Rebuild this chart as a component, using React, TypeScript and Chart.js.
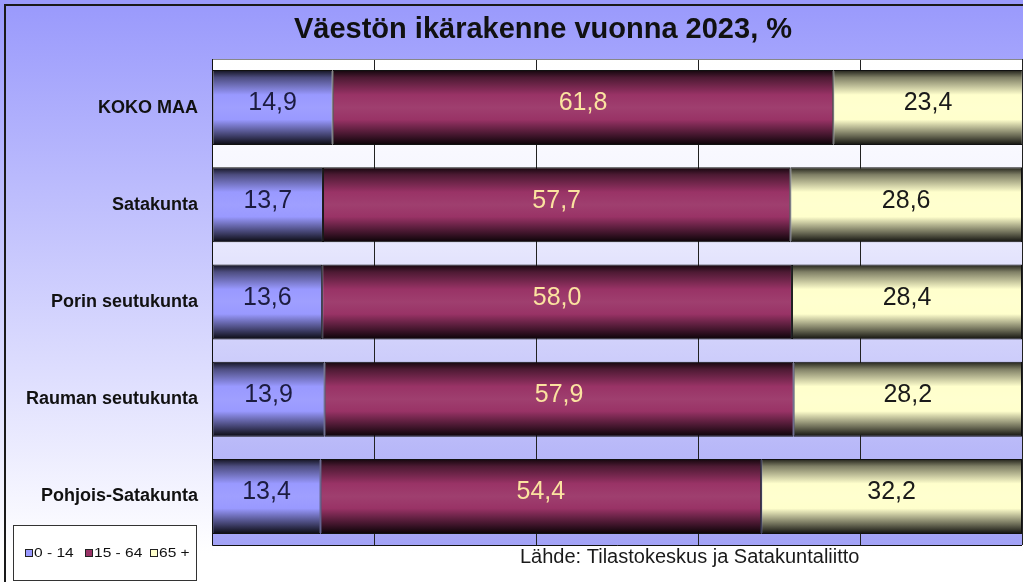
import React, { useEffect, useRef } from "react";
import { Chart, registerables } from "chart.js";

Chart.register(...registerables);

const categories = ["KOKO MAA", "Satakunta", "Porin seutukunta", "Rauman seutukunta", "Pohjois-Satakunta"];
const age0to14 = [14.9, 13.7, 13.6, 13.9, 13.4];
const age15to64 = [61.8, 57.7, 58.0, 57.9, 54.4];
const age65plus = [23.4, 28.6, 28.4, 28.2, 32.2];
const seriesLabels = ["0 - 14", "15 - 64", "65 +"];
const xTicks = [0, 20, 40, 60, 80, 100];
const titleText = "Väestön ikärakenne vuonna 2023, %";
const sourceText = "Lähde: Tilastokeskus ja Satakuntaliitto";

const baseColors = ["#9999ff", "#993366", "#ffffcc"];
const labelColors = ["#1c1c40", "#fbe3a0", "#1a1a1a"];
const CAT_PCT = 0.772;
const FONT = "Arial, 'Liberation Sans', sans-serif";

function hexToRgb(h: string) {
  const n = parseInt(h.slice(1), 16);
  return [(n >> 16) & 255, (n >> 8) & 255, n & 255];
}
function mix(h: string, f: number, target = 0) {
  const [r, g, b] = hexToRgb(h);
  const m = (c: number) => Math.round(c * f + target * (1 - f));
  return `rgb(${m(r)},${m(g)},${m(b)})`;
}

function barGradient(c: any, base: string) {
  const chart = c.chart;
  const y = chart.scales && chart.scales.y;
  if (!y || !chart.chartArea) return base;
  const center = y.getPixelForValue(c.dataIndex);
  const band = (y.bottom - y.top) / categories.length;
  const half = (band * CAT_PCT) / 2;
  const g = chart.ctx.createLinearGradient(0, center - half, 0, center + half);
  g.addColorStop(0, mix(base, 0.12));
  g.addColorStop(0.1, mix(base, 0.5));
  g.addColorStop(0.33, base);
  g.addColorStop(0.5, mix(base, 0.94, 255));
  g.addColorStop(0.66, base);
  g.addColorStop(0.88, mix(base, 0.4));
  g.addColorStop(1, mix(base, 0.06));
  return g;
}

const decor = {
  id: "decor",
  beforeDraw(chart: any) {
    const { ctx, chartArea: a, width, height } = chart;
    ctx.save();
    const bg = ctx.createLinearGradient(0, 5, 0, height);
    bg.addColorStop(0, "#9a9afc");
    bg.addColorStop(0.95, "#ffffff");
    bg.addColorStop(1, "#ffffff");
    ctx.fillStyle = bg;
    ctx.fillRect(0, 0, width, height);
    ctx.strokeStyle = "#1a1a1a";
    ctx.lineWidth = 2;
    ctx.strokeRect(5, 5, width + 10, height + 10);
    const pg = ctx.createLinearGradient(0, a.top, 0, a.bottom);
    pg.addColorStop(0, "#ffffff");
    pg.addColorStop(0.25, "#f6f6ff");
    pg.addColorStop(1, "#a2a2f6");
    ctx.fillStyle = pg;
    ctx.fillRect(a.left, a.top, a.right - a.left, a.bottom - a.top);
    ctx.restore();
  },
  afterDatasetsDraw(chart: any) {
    const { ctx, chartArea: a } = chart;
    ctx.save();
    ctx.font = `25px ${FONT}`;
    ctx.textAlign = "center";
    ctx.textBaseline = "middle";
    chart.data.datasets.forEach((ds: any, di: number) => {
      const meta = chart.getDatasetMeta(di);
      meta.data.forEach((el: any, i: number) => {
        const v = ds.data[i];
        const x = (el.x + el.base) / 2;
        ctx.fillStyle = labelColors[di];
        ctx.fillText(v.toFixed(1).replace(".", ","), x, el.y - 4);
      });
    });
    // plot frame
    ctx.strokeStyle = "#888";
    ctx.lineWidth = 1;
    ctx.beginPath();
    ctx.moveTo(a.left, a.top + 0.5);
    ctx.lineTo(a.right, a.top + 0.5);
    ctx.stroke();
    ctx.strokeStyle = "#111";
    ctx.beginPath();
    ctx.moveTo(a.left + 0.5, a.top);
    ctx.lineTo(a.left + 0.5, a.bottom + 0.5);
    ctx.lineTo(a.right, a.bottom + 0.5);
    ctx.stroke();
    ctx.restore();
  },
  afterDraw(chart: any) {
    const { ctx } = chart;
    ctx.save();
    ctx.fillStyle = "#111";
    ctx.font = `bold 29px ${FONT}`;
    ctx.textAlign = "center";
    ctx.textBaseline = "middle";
    ctx.fillText(titleText, 543, 30);

    ctx.font = `20px ${FONT}`;
    ctx.fillStyle = "#1a1a1a";
    ctx.textAlign = "left";
    ctx.fillText(sourceText, 520, 557);

    // legend
    ctx.fillStyle = "#ffffff";
    ctx.fillRect(13.5, 525.5, 183, 55);
    ctx.strokeStyle = "#333";
    ctx.lineWidth = 1;
    ctx.strokeRect(13.5, 525.5, 183, 55);
    ctx.textBaseline = "middle";
    const xs = [25, 85, 150];
    seriesLabels.forEach((lab, i) => {
      ctx.fillStyle = baseColors[i];
      ctx.fillRect(xs[i] + 0.5, 549.5, 7, 7);
      ctx.strokeStyle = "#222";
      ctx.strokeRect(xs[i] + 0.5, 549.5, 7, 7);
      ctx.save();
      ctx.translate(xs[i] + 9, 553.5);
      ctx.scale(1.15, 1);
      ctx.font = `13.5px ${FONT}`;
      ctx.fillStyle = "#111";
      ctx.fillText(lab, 0, 0);
      ctx.restore();
    });
    ctx.restore();
  },
};

export default function App() {
  const ref = useRef<HTMLCanvasElement>(null);
  useEffect(() => {
    const series = [age0to14, age15to64, age65plus];
    const chart = new Chart(ref.current!, {
      type: "bar",
      data: {
        labels: categories,
        datasets: series.map((d, i) => ({
          label: seriesLabels[i],
          data: d,
          backgroundColor: (c: any) => barGradient(c, baseColors[i]),
          borderColor: "#111",
          borderWidth: 1,
          borderSkipped: false,
          categoryPercentage: CAT_PCT,
          barPercentage: 1,
        })),
      },
      options: {
        indexAxis: "y",
        responsive: false,
        animation: false,
        devicePixelRatio: 1,
        layout: { padding: { top: 59, bottom: 37, left: 0, right: 1 } },
        plugins: { legend: { display: false }, title: { display: false }, tooltip: { enabled: false } },
        scales: {
          x: {
            stacked: true,
            min: 0,
            max: 100,
            afterBuildTicks: (s: any) => {
              s.ticks = xTicks.map((v) => ({ value: v }));
            },
            ticks: { display: false },
            grid: { color: "#222", lineWidth: 1, drawTicks: false },
            border: { display: false },
            afterFit: (s: any) => {
              s.height = 0;
            },
          },
          y: {
            stacked: true,
            grid: { display: false, drawTicks: false },
            border: { display: false },
            ticks: {
              color: "#111",
              font: { family: FONT, size: 18, weight: "bold" },
              padding: 14,
            },
            afterFit: (s: any) => {
              s.width = 212;
            },
          },
        },
      },
      plugins: [decor],
    });
    return () => chart.destroy();
  }, []);
  return (
    <div style={{ position: "absolute", left: 0, top: 0, width: 1023, height: 582, overflow: "hidden" }}>
      <canvas ref={ref} width={1023} height={582} style={{ display: "block" }} />
    </div>
  );
}
